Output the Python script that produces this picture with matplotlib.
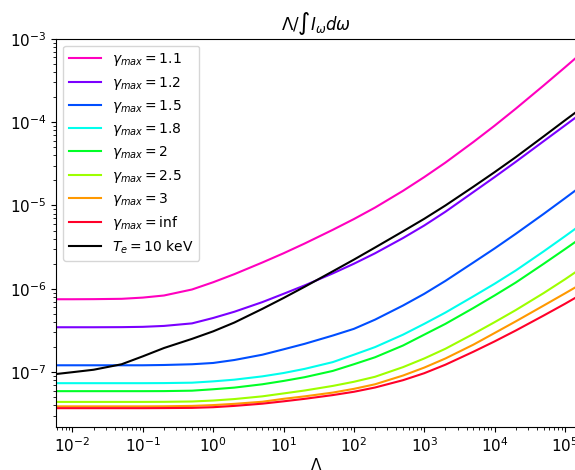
import numpy as np
import matplotlib.pyplot as plt

lam = [0.0059, 0.01, 0.02, 0.05, 0.1, 0.2, 0.5, 1, 2, 5, 10, 20, 50, 100, 200, 500,
       1e3, 2e3, 5e3, 1e4, 2e4, 5e4, 1e5, 1.39e5]

gamma_labels = ["1.1", "1.2", "1.5", "1.8", "2", "2.5", "3", "inf"]

g_1p1 = [7.50e-7, 7.50e-7, 7.52e-7, 7.59e-7, 7.85e-7, 8.32e-7, 9.82e-7, 1.20e-6, 1.50e-6, 2.07e-6,
         2.67e-6, 3.50e-6, 5.10e-6, 6.87e-6, 9.44e-6, 1.50e-5, 2.19e-5, 3.27e-5, 5.78e-5, 9.06e-5,
         1.45e-4, 2.76e-4, 4.54e-4, 5.77e-4]
g_1p2 = [3.46e-7, 3.46e-7, 3.46e-7, 3.47e-7, 3.50e-7, 3.59e-7, 3.85e-7, 4.47e-7, 5.31e-7, 6.93e-7,
         8.71e-7, 1.10e-6, 1.53e-6, 2.00e-6, 2.67e-6, 4.07e-6, 5.75e-6, 8.41e-6, 1.45e-5, 2.19e-5,
         3.34e-5, 5.92e-5, 9.12e-5, 1.12e-4]
g_1p5 = [1.21e-7, 1.21e-7, 1.21e-7, 1.21e-7, 1.21e-7, 1.22e-7, 1.245e-7, 1.29e-7, 1.40e-7, 1.62e-7,
         1.88e-7, 2.19e-7, 2.75e-7, 3.31e-7, 4.27e-7, 6.31e-7, 8.71e-7, 1.245e-6, 2.07e-6, 3.05e-6,
         4.57e-6, 7.94e-6, 1.22e-5, 1.50e-5]
g_1p8 = [7.38e-8, 7.38e-8, 7.38e-8, 7.38e-8, 7.38e-8, 7.40e-8, 7.48e-8, 7.76e-8, 8.13e-8, 8.91e-8,
         9.77e-8, 1.096e-7, 1.32e-7, 1.62e-7, 2.0e-7, 2.82e-7, 3.80e-7, 5.19e-7, 8.13e-7, 1.15e-6,
         1.66e-6, 2.82e-6, 4.27e-6, 5.22e-6]
g_2 = [5.92e-8, 5.92e-8, 5.92e-8, 5.92e-8, 5.92e-8, 5.93e-8, 6.0e-8, 6.24e-8, 6.53e-8, 7.16e-8,
       7.85e-8, 8.71e-8, 1.035e-7, 1.245e-7, 1.51e-7, 2.09e-7, 2.82e-7, 3.80e-7, 5.89e-7, 8.32e-7,
       1.19e-6, 2.0e-6, 2.99e-6, 3.63e-6]
g_2p5 = [4.40e-8, 4.40e-8, 4.40e-8, 4.40e-8, 4.40e-8, 4.41e-8, 4.45e-8, 4.57e-8, 4.76e-8, 5.13e-8,
         5.56e-8, 6.03e-8, 6.84e-8, 7.67e-8, 8.81e-8, 1.15e-7, 1.46e-7, 1.91e-7, 2.88e-7, 3.98e-7,
         5.56e-7, 8.91e-7, 1.30e-6, 1.57e-6]
g_3 = [3.89e-8, 3.89e-8, 3.89e-8, 3.89e-8, 3.89e-8, 3.90e-8, 3.94e-8, 4.03e-8, 4.17e-8, 4.42e-8,
       4.79e-8, 5.13e-8, 5.69e-8, 6.31e-8, 7.16e-8, 9.12e-8, 1.135e-7, 1.46e-7, 2.14e-7, 2.95e-7,
       4.07e-7, 6.31e-7, 8.81e-7, 1.035e-6]
g_inf = [3.70e-8, 3.70e-8, 3.70e-8, 3.70e-8, 3.70e-8, 3.71e-8, 3.73e-8, 3.80e-8, 3.94e-8, 4.19e-8,
         4.47e-8, 4.79e-8, 5.31e-8, 5.82e-8, 6.55e-8, 8.02e-8, 9.72e-8, 1.23e-7, 1.76e-7, 2.34e-7,
         3.16e-7, 4.79e-7, 6.61e-7, 7.76e-7]

# thermal T_e = 10 keV curve
te_10kev = [9.51e-8, 1.00e-7, 1.07e-7, 1.245e-7, 1.55e-7, 1.95e-7, 2.51e-7, 3.09e-7, 3.94e-7, 5.75e-7,
            7.76e-7, 1.06e-6, 1.62e-6, 2.24e-6, 3.13e-6, 4.90e-6, 6.92e-6, 1.0e-5, 1.68e-5, 2.51e-5,
            3.80e-5, 6.76e-5, 1.05e-4, 1.29e-4]

series = [g_1p1, g_1p2, g_1p5, g_1p8, g_2, g_2p5, g_3, g_inf]
colors = plt.cm.gist_rainbow(np.linspace(1, 0, len(series)))

fig = plt.figure(figsize=(5.75, 4.7), dpi=100)
ax = fig.add_axes([0.098, 0.0915, 0.902, 0.826])

for vals, lab, c in zip(series, gamma_labels, colors):
    ax.plot(lam, vals, color=c, lw=1.5, label=r"$\gamma_{max} = $" + lab)
ax.plot(lam, te_10kev, color="k", lw=1.5, label=r"$T_e = 10$ keV")

ax.set_xscale("log")
ax.set_yscale("log")
ax.set_xlim(5.9e-3, 1.39e5)
ax.set_ylim(2.2e-8, 1e-3)
ax.spines["right"].set_visible(False)
ax.tick_params(labelsize=11)
ax.set_xlabel(r"$\Lambda$", fontsize=11, labelpad=1)
ax.set_title(r"$\Lambda/\int I_\omega d\omega$")
ax.legend(loc="upper left", labelspacing=0.45, handlelength=2.3)

fig.savefig("out.png", dpi=100)
